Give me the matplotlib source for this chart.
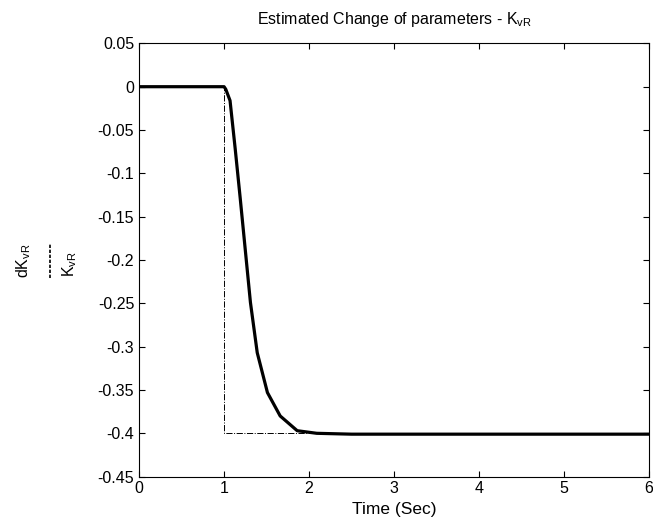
import matplotlib.pyplot as plt
from matplotlib.lines import Line2D

plt.rcParams['font.family'] = ['Liberation Sans', 'DejaVu Sans']
plt.rcParams['mathtext.fontset'] = 'custom'
plt.rcParams['mathtext.rm'] = 'Liberation Sans'
plt.rcParams['mathtext.it'] = 'Liberation Sans'
plt.rcParams['mathtext.bf'] = 'Liberation Sans:bold'

# estimated parameter change
time = [0, 1.0, 1.02, 1.07, 1.13, 1.19, 1.26, 1.31, 1.39, 1.51, 1.66,
        1.86, 2.09, 2.5, 3, 4, 5, 6]
estimate = [0, 0, -0.003, -0.016, -0.071, -0.129, -0.199, -0.249, -0.307,
            -0.353, -0.380, -0.397, -0.400, -0.401, -0.401, -0.401, -0.401,
            -0.401]

# actual step change
step_time = [0, 1, 1, 6]
step_value = [0, 0, -0.4, -0.4]

xticks = [0, 1, 2, 3, 4, 5, 6]
yticks = [0.05, 0, -0.05, -0.1, -0.15, -0.2, -0.25, -0.3, -0.35, -0.4, -0.45]
ytick_labels = ['0.05', '0', '-0.05', '-0.1', '-0.15', '-0.2', '-0.25',
                '-0.3', '-0.35', '-0.4', '-0.45']

fig = plt.figure(figsize=(6.53, 5.29), dpi=100)
ax = fig.add_axes([0.213, 0.099, 0.781, 0.819])

ax.plot(step_time, step_value, color='black', linestyle='-.', linewidth=0.7)
ax.plot(time, estimate, color='black', linewidth=2.3)

ax.set_xlim(0, 6)
ax.set_ylim(-0.45, 0.05)
ax.set_xticks(xticks)
ax.set_yticks(yticks)
ax.set_yticklabels(ytick_labels)
ax.tick_params(direction='in', top=True, right=True, labelsize=11.5, length=4)
for s in ax.spines.values():
    s.set_linewidth(0.8)

ax.set_xlabel('Time (Sec)', fontsize=12.5, labelpad=4)
ax.set_title(r'Estimated Change of parameters - K$_{vR}$', fontsize=11.5, pad=14)

# y label drawn as a rotated fraction with a dashed bar, like the original
fig.text(0.036, 0.508, r'dK$_{vR}$', rotation=90, fontsize=11.5,
         ha='center', va='center')
fig.text(0.107, 0.500, r'K$_{vR}$', rotation=90, fontsize=11.5,
         ha='center', va='center')
fig.add_artist(Line2D([0.0766, 0.0766], [0.474, 0.541], color='black',
                      linewidth=1.2, linestyle=(0, (2, 1))))

fig.savefig('out.png', dpi=100)
